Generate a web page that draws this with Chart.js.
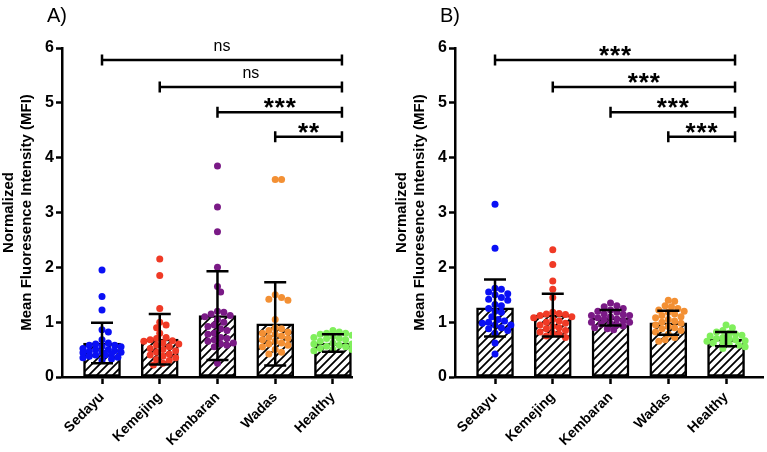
<!DOCTYPE html>
<html>
<head>
<meta charset="utf-8">
<script src="https://cdn.jsdelivr.net/npm/chart.js@4"></script>
<style>
html, body { margin: 0; padding: 0; background: #fff; overflow: hidden; }
.panel { position: absolute; top: 0; }
</style>
</head>
<body>
<div class="panel" style="left:0"><canvas id="chartA" width="375" height="452"></canvas></div>
<div class="panel" style="left:393px"><canvas id="chartB" width="374" height="452"></canvas></div>
<script>
// categories and colours
const categories = ['Sedayu', 'Kemejing', 'Kembaran', 'Wadas', 'Healthy'];
const dotColors = ['#0a10f5', '#f03a26', '#7a1a86', '#f39034', '#80ef5c'];
const yTicks = [0, 1, 2, 3, 4, 5, 6];

// panel A - bar means and SD
const meanA = [0.62, 0.69, 1.12, 0.97, 0.62];
const sdA = [0.37, 0.46, 0.81, 0.76, 0.16];
const sedayuA = [1.95, 1.47, 1.22, 0.86, 0.82, 0.68, 0.62, 0.6, 0.58, 0.56, 0.55, 0.52, 0.5, 0.5, 0.48, 0.47, 0.45, 0.44, 0.42, 0.4, 0.4, 0.38, 0.36, 0.35, 0.33, 0.3, 0.58, 0.45];
const kemejingA = [2.15, 1.85, 1.25, 1.0, 0.95, 0.9, 0.8, 0.72, 0.7, 0.68, 0.66, 0.62, 0.6, 0.58, 0.55, 0.52, 0.5, 0.48, 0.45, 0.42, 0.4, 0.38, 0.35, 0.32, 0.3, 0.25, 0.22, 0.65];
const kembaranA = [3.85, 3.1, 2.65, 2.0, 1.65, 1.55, 1.2, 1.18, 1.15, 1.12, 1.1, 1.05, 1.0, 0.95, 0.92, 0.88, 0.85, 0.8, 0.78, 0.72, 0.7, 0.68, 0.65, 0.62, 0.6, 0.58, 0.55, 0.25];
const wadasA = [3.6, 3.6, 1.5, 1.45, 1.42, 1.4, 1.05, 0.9, 0.88, 0.85, 0.82, 0.8, 0.78, 0.75, 0.72, 0.7, 0.68, 0.65, 0.62, 0.6, 0.58, 0.55, 0.5, 0.45, 0.42];
const healthyA = [0.85, 0.82, 0.8, 0.78, 0.76, 0.74, 0.72, 0.7, 0.68, 0.65, 0.62, 0.6, 0.58, 0.56, 0.55, 0.52, 0.5, 0.5, 0.48, 0.6, 0.7, 0.8];

// panel B - bar means and SD
const meanB = [1.26, 1.13, 1.08, 0.99, 0.69];
const sdB = [0.52, 0.39, 0.14, 0.22, 0.13];
const sedayuB = [3.15, 2.35, 1.62, 1.6, 1.55, 1.52, 1.5, 1.45, 1.42, 1.4, 1.32, 1.3, 1.25, 1.2, 1.18, 1.1, 1.05, 1.02, 1.0, 0.98, 0.95, 0.95, 0.9, 0.88, 0.85, 0.8, 0.62, 0.42];
const kemejingB = [2.32, 2.05, 1.75, 1.6, 1.45, 1.18, 1.16, 1.15, 1.14, 1.12, 1.1, 1.08, 1.05, 1.02, 1.0, 0.98, 0.95, 0.92, 0.9, 0.88, 0.85, 0.82, 0.8, 0.78, 0.75, 0.72];
const kembaranB = [1.35, 1.3, 1.28, 1.25, 1.22, 1.2, 1.18, 1.15, 1.14, 1.12, 1.1, 1.08, 1.06, 1.05, 1.03, 1.0, 0.98, 0.96, 0.95, 0.93, 0.9, 0.88, 0.86, 1.12, 1.0];
const wadasB = [1.4, 1.38, 1.3, 1.28, 1.25, 1.22, 1.2, 1.18, 1.15, 1.12, 1.1, 1.08, 1.05, 1.02, 1.0, 0.98, 0.95, 0.92, 0.9, 0.88, 0.85, 0.82, 0.78, 0.72, 0.68, 0.65];
const healthyB = [0.95, 0.9, 0.85, 0.82, 0.8, 0.78, 0.76, 0.75, 0.72, 0.7, 0.7, 0.68, 0.66, 0.65, 0.63, 0.62, 0.6, 0.58, 0.55, 0.52];

// significance brackets (all go to Healthy)
const bracketFrom = [0, 1, 2, 3];
const bracketY = [5.78, 5.29, 4.83, 4.38];
const sigA = ['ns', 'ns', '***', '**'];
const sigB = ['***', '***', '***', '***'];

const FONT = "Arial, 'Liberation Sans', sans-serif";

// diagonal hatch fill for the bars
function makeHatch() {
    const c = document.createElement('canvas');
    c.width = 8; c.height = 8;
    const g = c.getContext('2d');
    g.fillStyle = '#fff';
    g.fillRect(0, 0, 8, 8);
    g.strokeStyle = '#000';
    g.lineWidth = 1.8;
    g.beginPath();
    g.moveTo(0, 8); g.lineTo(8, 0);
    g.moveTo(-2, 2); g.lineTo(2, -2);
    g.moveTo(6, 10); g.lineTo(10, 6);
    g.stroke();
    return g.createPattern(c, 'repeat');
}

// simple beeswarm: spread points sideways so they don't sit on top of each other
function swarm(vals, idx) {
    const placed = [];
    const d = 0.105;
    vals.slice().sort((a, b) => b - a).forEach(v => {
        let off = 0, best = Infinity;
        for (let k = 0; k < 13; k++) {
            const cand = (k % 2 ? 1 : -1) * Math.ceil(k / 2) * 0.055;
            const near = Math.min(Infinity, ...placed.map(p => Math.hypot(p.x - cand, p.y - v)));
            if (near >= d) { off = cand; best = -1; break; }
            if (-near < best) { best = -near; off = cand; }
        }
        placed.push({ x: off, y: v });
    });
    return placed.map(p => ({ x: idx + p.x, y: p.y }));
}

const overlay = {
    id: 'overlay',
    afterDatasetsDraw(chart, args, opts) {
        const { ctx, scales: { x, y } } = chart;
        ctx.save();
        ctx.strokeStyle = '#000';
        ctx.lineWidth = 2.5;
        // error bars
        opts.means.forEach((m, i) => {
            const px = x.getPixelForValue(i);
            const top = y.getPixelForValue(m + opts.sd[i]);
            const bot = y.getPixelForValue(Math.max(m - opts.sd[i], 0));
            ctx.beginPath();
            ctx.moveTo(px, top); ctx.lineTo(px, bot);
            ctx.moveTo(px - 11, top); ctx.lineTo(px + 11, top);
            ctx.moveTo(px - 11, bot); ctx.lineTo(px + 11, bot);
            ctx.stroke();
        });
        // brackets
        const xr = x.getPixelForValue(categories.length - 1) + 9;
        bracketFrom.forEach((from, i) => {
            const xl = x.getPixelForValue(from);
            const py = y.getPixelForValue(bracketY[i]);
            ctx.beginPath();
            ctx.moveTo(xl, py); ctx.lineTo(xr, py);
            ctx.moveTo(xl, py - 5.5); ctx.lineTo(xl, py + 5.5);
            ctx.moveTo(xr, py - 5.5); ctx.lineTo(xr, py + 5.5);
            ctx.stroke();
            const label = opts.sig[i];
            const cx = (xl + xr) / 2;
            ctx.fillStyle = '#000';
            ctx.textAlign = 'center';
            ctx.textBaseline = 'alphabetic';
            if (label === 'ns') {
                ctx.font = '16px ' + FONT;
                ctx.fillText(label, cx, py - 9);
            } else {
                ctx.font = 'bold 26px ' + FONT;
                const n = label.length;
                for (let k = 0; k < n; k++) {
                    ctx.fillText('*', cx + (k - (n - 1) / 2) * 11, py + 4);
                }
            }
        });
        ctx.restore();
    },
    afterDraw(chart, args, opts) {
        const ctx = chart.ctx;
        ctx.save();
        ctx.fillStyle = '#000';
        ctx.font = '20px ' + FONT;
        ctx.textAlign = 'left';
        ctx.textBaseline = 'alphabetic';
        ctx.fillText(opts.letter, 47, 22);
        ctx.restore();
    }
};

function makePanel(id, means, sd, groups, sig, letter, xMax, padRight) {
    const hatch = makeHatch();
    const datasets = groups.map((vals, i) => ({
        type: 'scatter',
        data: swarm(vals, i),
        backgroundColor: dotColors[i],
        borderWidth: 0,
        pointRadius: 3.5,
        order: 1
    }));
    datasets.push({
        type: 'bar',
        data: means.map((m, i) => ({ x: i, y: m })),
        backgroundColor: hatch,
        borderColor: '#000',
        borderWidth: 2.5,
        borderSkipped: false,
        barThickness: 37,
        order: 2
    });

    new Chart(document.getElementById(id), {
        data: { datasets },
        options: {
            responsive: false,
            animation: false,
            layout: { padding: { top: 48, right: padRight, left: 0, bottom: 0 } },
            plugins: {
                legend: { display: false },
                tooltip: { enabled: false },
                overlay: { means, sd, sig, letter }
            },
            scales: {
                x: {
                    type: 'linear',
                    offset: false,
                    bounds: 'data',
                    min: -0.693,
                    max: xMax,
                    afterBuildTicks: s => { s.ticks = categories.map((c, i) => ({ value: i })); },
                    afterFit: s => { s.height = 75; s.paddingLeft = 0; s.paddingRight = 0; },
                    ticks: {
                        callback: v => categories[v],
                        color: '#000',
                        font: { family: FONT, size: 14, weight: 'bold' },
                        maxRotation: 45,
                        minRotation: 45,
                        autoSkip: false,
                        padding: 5
                    },
                    grid: { offset: false, drawOnChartArea: false, drawTicks: true, tickLength: 7, tickWidth: 2.5, color: '#000' },
                    border: { display: true, color: '#000', width: 2.5 }
                },
                y: {
                    min: 0,
                    max: 6,
                    afterBuildTicks: s => { s.ticks = yTicks.map(v => ({ value: v })); },
                    afterFit: s => { s.width = 62; s.paddingTop = 0; s.paddingBottom = 0; },
                    ticks: {
                        color: '#000',
                        font: { family: FONT, size: 16, weight: 'bold' },
                        padding: 2
                    },
                    grid: { drawOnChartArea: false, drawTicks: true, tickLength: 6, tickWidth: 2.5, color: '#000' },
                    border: { display: true, color: '#000', width: 2.5 },
                    title: {
                        display: true,
                        text: ['Normalized', 'Mean Fluoresence Intensity (MFI)'],
                        color: '#000',
                        font: { family: FONT, size: 15, weight: 'bold', lineHeight: 1.2 },
                        padding: { top: 0, bottom: 0 }
                    }
                }
            }
        },
        plugins: [overlay]
    });
}

makePanel('chartA', meanA, sdA, [sedayuA, kemejingA, kembaranA, wadasA, healthyA], sigA, 'A)', 4.33, 23);
makePanel('chartB', meanB, sdB, [sedayuB, kemejingB, kembaranB, wadasB, healthyB], sigB, 'B)', 4.64, 4);
</script>
</body>
</html>
